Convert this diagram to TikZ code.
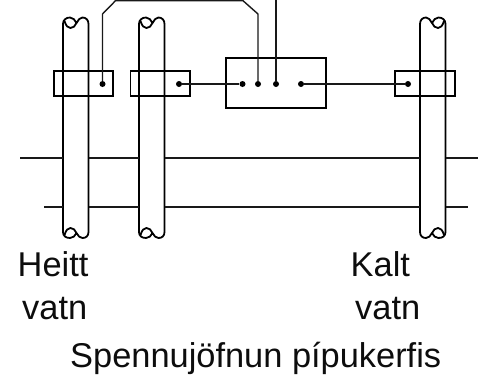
\documentclass[tikz,border=0pt]{standalone}
\usepackage{fontspec}
\setmainfont{Liberation Sans}
\tikzset{
  x=1pt,y=-1pt,
  pipeline/.style={line width=1.8pt,black},
  conduit/.style={line width=1.4pt,black!90},
  clampbox/.style={draw,line width=1.6pt,black,minimum width=59.5pt,minimum height=25.5pt,inner sep=0pt,rectangle},
  meterbox/.style={draw,line width=1.6pt,black,minimum width=100pt,minimum height=50pt,inner sep=0pt,rectangle},
  dotmark/.style={circle,fill=black,inner sep=0pt,minimum size=6pt},
  lbl/.style={inner sep=0pt,anchor=base west,font=\fontsize{34.4}{36}\selectfont,text=black!95},
  pipebody/.pic={
    \draw[pipeline,line join=round]
      (0,24) -- (0,232)
      .. controls (0,236) and (3,238) .. (7,238)
      .. controls (10,238) and (12,236) .. (13.5,233)
      .. controls (15,236) and (17,238) .. (19.5,238)
      .. controls (23,238) and (25.5,236) .. (25.5,232)
      -- (25.5,24)
      .. controls (25.5,20) and (23,17.5) .. (19.5,17.5)
      .. controls (17,17.5) and (15,20) .. (13.5,23)
      .. controls (12,20) and (10,17.5) .. (7,17.5)
      .. controls (3,17.5) and (0,20) .. (0,24);
    \draw[pipeline] (1.5,21) .. controls (3,26) and (5,28) .. (7.5,28)
      .. controls (10,28) and (12.5,26) .. (13.5,23);
    \draw[pipeline] (1.5,235) .. controls (3,230) and (5,228) .. (7.5,228)
      .. controls (10,228) and (12.5,230) .. (13.5,233);
  }
}
\begin{document}
\begin{tikzpicture}
\useasboundingbox (0,0) rectangle (479,383);
% pipes
\pic at (63,0) {pipebody};
\pic at (139,0) {pipebody};
\pic[xscale=-1] at (445.5,0) {pipebody};
% horizontal runs
\foreach \yy/\xa/\xb in {158/20/478,207/44/468}{
  \coordinate (la) at (\xa,\yy);
  \coordinate (lb) at (63,\yy);
  \coordinate (lc) at (88.5,\yy);
  \coordinate (ld) at (139,\yy);
  \coordinate (le) at (164.5,\yy);
  \coordinate (lf) at (420,\yy);
  \coordinate (lg) at (445.5,\yy);
  \coordinate (lh) at (\xb,\yy);
  \draw[conduit] (la)--(lb) (lc)--(ld) (le)--(lf) (lg)--(lh);
}
% clamps and box
\node[clampbox] (c1) at (83.5,83.5) {};
\node[clampbox] (c2) at (160.2,83.5) {};
\node[clampbox] (c3) at (425,83.5) {};
\node[meterbox] (m) at (276,83) {};
% dots
\node[dotmark] (d1) at (102.5,84) {};
\node[dotmark] (d2) at (179,84) {};
\node[dotmark] (d3) at (408,84) {};
\node[dotmark] (m1) at (242.5,84) {};
\node[dotmark] (m2) at (258,84) {};
\node[dotmark] (m3) at (276,84) {};
\node[dotmark] (m4) at (301,84) {};
% connectors
\coordinate (w1) at (102.5,14);
\coordinate (w2) at (115.5,0.7);
\coordinate (w3) at (243,0.7);
\coordinate (w4) at (258,14);
\coordinate (w5) at (276,0);
\draw[conduit] (d2)--(m1);
\draw[conduit] (m4)--(d3);
\draw[conduit] (d1)--(w1)--(w2)--(w3)--(w4)--(m2);
\draw[conduit] (m3)--(w5);
% labels
\node[lbl] (t1) at (17.5,276.5) {Heitt};
\node[lbl] (t2) at (22,319) {vatn};
\node[lbl] (t3) at (350.5,276) {Kalt};
\node[lbl] (t4) at (355,319) {vatn};
\node[lbl] (t5) at (70,367) {Spennujöfnun pípukerfis};
\end{tikzpicture}
\end{document}
